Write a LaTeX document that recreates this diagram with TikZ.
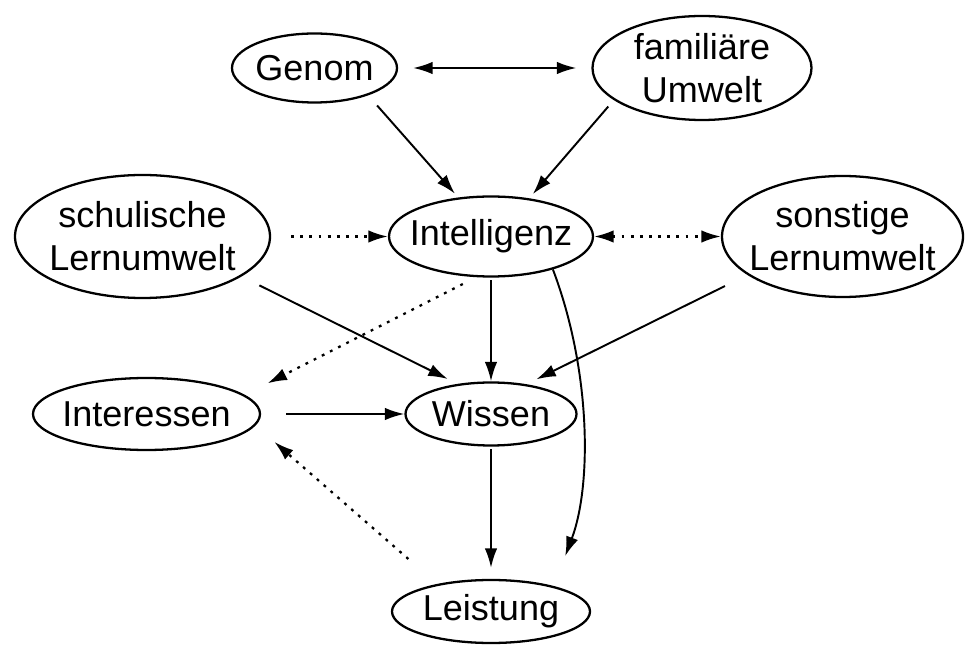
\documentclass[tikz,border=0pt]{standalone}
\usepackage{fontspec}
\setmainfont{Liberation Sans}
\usetikzlibrary{shapes.geometric, arrows.meta}

\begin{document}
\begin{tikzpicture}[
  >={Latex[length=3.9mm,width=2.5mm]},
  blase/.style={ellipse, draw, line width=1.3pt, inner sep=0pt},
  every label/.style={font=\fontsize{20.5}{24.5}\selectfont, align=center, inner sep=0pt},
  pfeil/.style={->, line width=1.1pt},
  punktiert/.style={pfeil, line width=1.3pt, dash pattern=on 1.6pt off 3.6pt}
]
\fill [white] (0,0) rectangle (19.34,12.9);
% Knoten
\node [blase, minimum width=3.30cm, minimum height=1.38cm, label=center:Genom] (genom) at (6.29,11.54) {};
\node [blase, minimum width=4.38cm, minimum height=2.08cm, label={center:familiäre\\Umwelt}] (famil) at (14.04,11.54) {};
\node [blase, minimum width=5.10cm, minimum height=2.46cm, label={center:schulische\\Lernumwelt}] (schul) at (2.85,8.17) {};
\node [blase, minimum width=4.08cm, minimum height=1.60cm, label=center:Intelligenz] (intel) at (9.82,8.17) {};
\node [blase, minimum width=4.82cm, minimum height=2.42cm, label={center:sonstige\\Lernumwelt}] (sonst) at (16.85,8.17) {};
\node [blase, minimum width=4.54cm, minimum height=1.44cm, label=center:Interessen] (inter) at (2.93,4.62) {};
\node [blase, minimum width=3.42cm, minimum height=1.26cm, label=center:Wissen] (wissen) at (9.82,4.62) {};
\node [blase, minimum width=3.96cm, minimum height=1.26cm, label=center:Leistung] (leist) at (9.82,0.67) {};

% Pfeile
\draw [pfeil, <->, shorten <=0.3cm, shorten >=0.3cm] (genom.east) -- (genom.east -| famil.west);
\draw [pfeil, shorten <=0.27cm, shorten >=0.1cm] (genom.-27.7) -- (intel.130);
\draw [pfeil, shorten <=0.17cm, shorten >=0.11cm] (famil.-160.9) -- (intel.45.7);
\draw [punktiert, shorten <=0.4cm] (schul) -- (intel);
\draw [punktiert, <->] (intel) -- (sonst);
\draw [pfeil, shorten <=0.4cm, shorten >=0.22cm] (schul.-22.1) -- (wissen.138.8);
\draw [pfeil, shorten <=0.05cm] (intel) -- (wissen);
\draw [pfeil, shorten <=0.5cm, shorten >=0.22cm] (sonst.-158.6) -- (wissen.40.6);
\draw [punktiert, shorten <=0.3cm, shorten >=0.51cm] (intel.-110.2) -- (inter.11.4);
\draw [pfeil, shorten <=0.5cm] (inter) -- (wissen);
\draw [pfeil, shorten <=0.05cm, shorten >=0.22cm] (wissen) -- (leist);
\draw [pfeil, shorten >=0.64cm] (intel.-28) .. controls (11.82,5.50) and (11.84,3.20) .. (leist.22.6);
\draw [punktiert, shorten <=0.76cm, shorten >=0.5cm] (leist.153.8) -- (inter.-6.8);
\end{tikzpicture}
\end{document}
